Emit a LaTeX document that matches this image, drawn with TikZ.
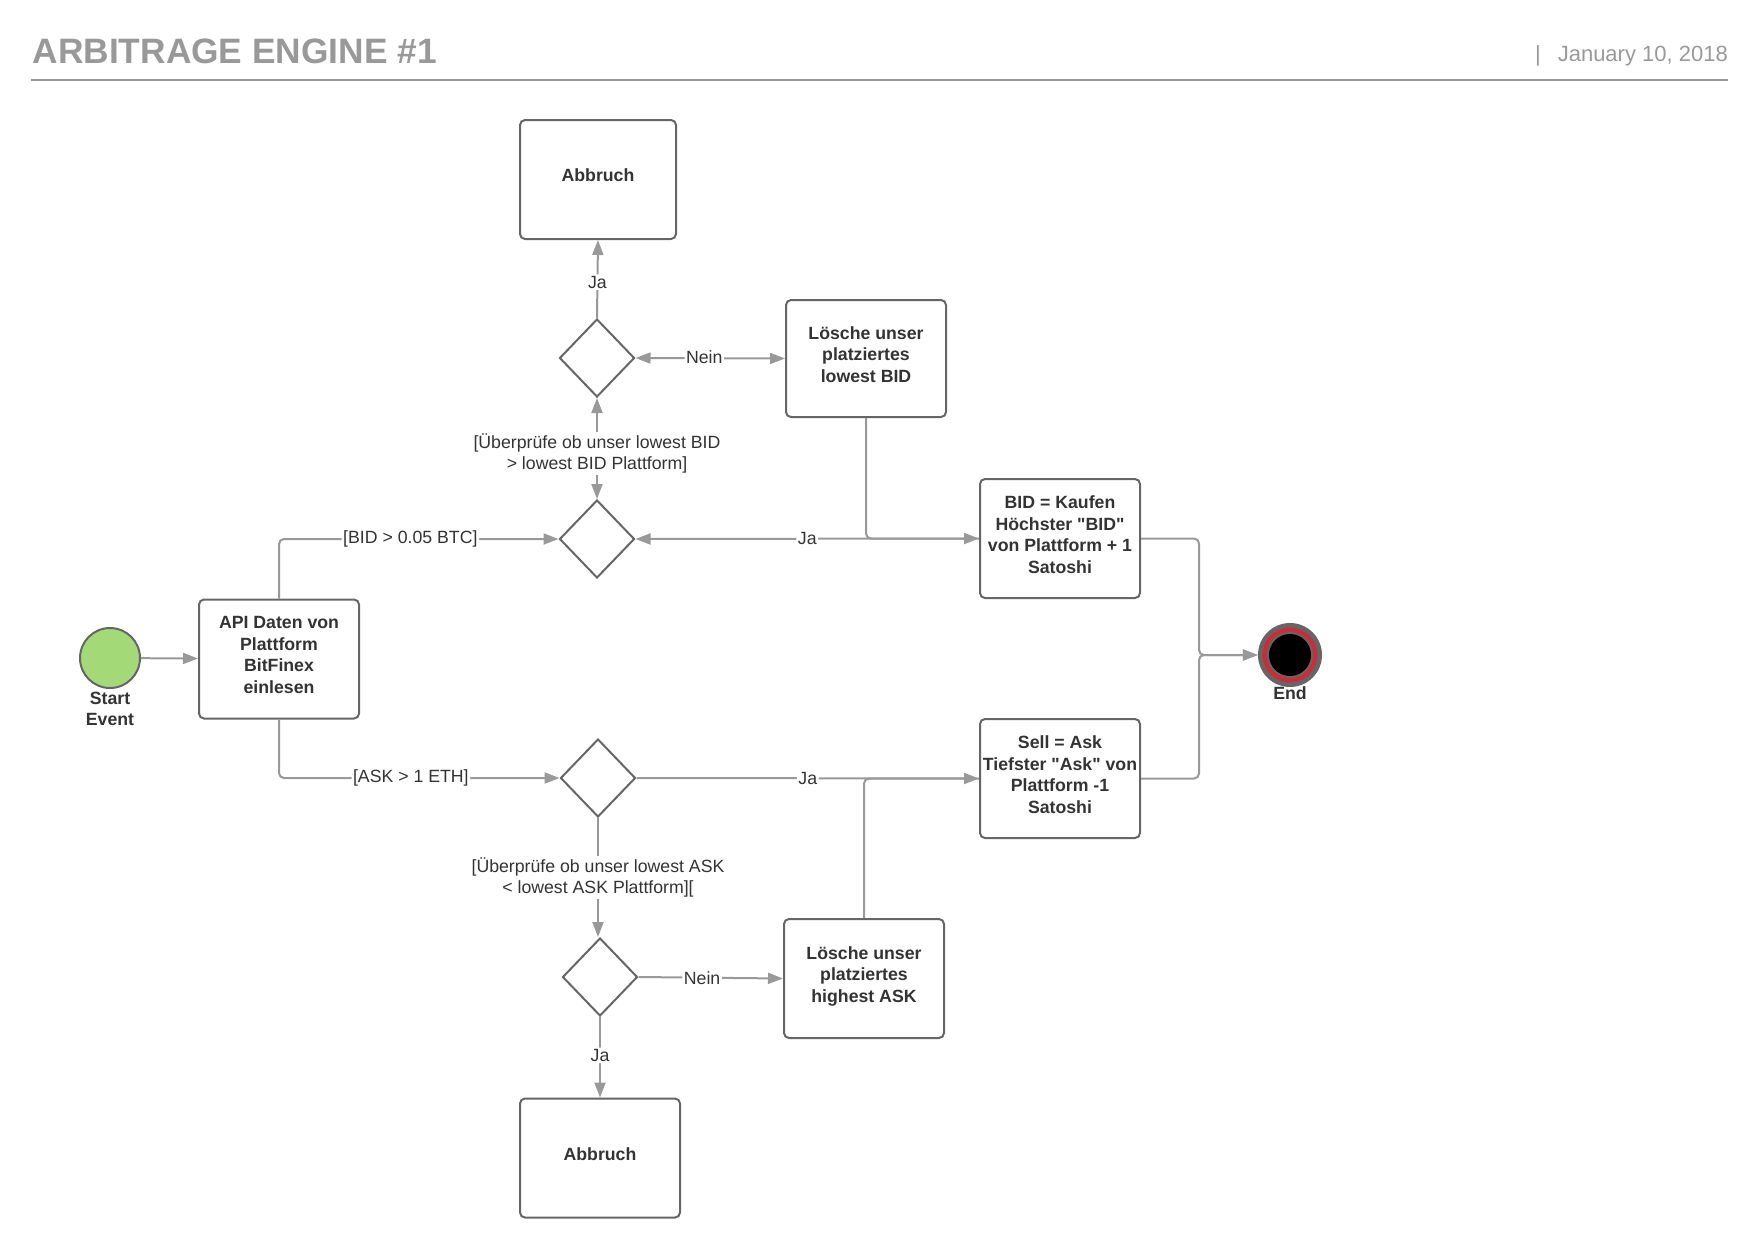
\documentclass[tikz,border=0pt]{standalone}
\usepackage{fontspec}
\setmainfont{Liberation Sans}[Ligatures=TeXOff]
\usetikzlibrary{arrows.meta,shapes.geometric}
\definecolor{cconn}{HTML}{999999}
\definecolor{cbord}{HTML}{666666}
\definecolor{ctext}{HTML}{333333}
\definecolor{chead}{HTML}{999999}
\definecolor{cgreen}{HTML}{A3D977}
\definecolor{cred}{HTML}{C92D39}
\newcommand\nodefnt{\fontsize{17.7pt}{21.7pt}\selectfont\bfseries}
\newcommand\lblfnt{\fontsize{17.7pt}{21.3pt}\selectfont}
\begin{document}
\begin{tikzpicture}[x=1pt,y=-1pt,
  box/.style={draw=cbord, line width=2pt, rounded corners=5pt, fill=white,
    minimum width=160pt, minimum height=119pt, align=center, font=\nodefnt,
    text=ctext, inner sep=2pt, execute at end node={\rule[-8pt]{0pt}{0pt}}},
  dia/.style={diamond, draw=cbord, line width=2pt, minimum width=75pt,
    minimum height=78pt, inner sep=0pt, fill=white},
  cn/.style={draw=cconn, line width=2pt, rounded corners=5pt},
  ar/.style={-{Triangle[length=15pt,width=11pt]}},
  dar/.style={{Triangle[length=15pt,width=11pt]}-{Triangle[length=15pt,width=11pt]}},
  lbl/.style={fill=white, inner sep=1.5pt, font=\lblfnt, text=ctext, align=center},
  ttl/.style={font=\nodefnt, text=ctext, align=center, inner sep=0pt}]
\useasboundingbox (0,0) rectangle (1760,1258);

% header
\node[anchor=base west, font=\fontsize{35.3pt}{40pt}\selectfont\bfseries, text=chead, inner sep=0pt] (title) at (32.5,63.3) {ARBITRAGE ENGINE \#1};
\node[anchor=base east, font=\fontsize{22pt}{26pt}\selectfont, text=chead, inner sep=0pt] (date) at (1728,61) {|\hspace{17pt}January 10, 2018};
\draw[draw=chead, line width=2pt] (31,80) -- (1728,80);

% nodes
\node[circle, draw=cbord, line width=2pt, fill=cgreen, minimum size=60pt, inner sep=0pt] (start) at (110,658) {};
\node[ttl] (startlbl) at (110,709) {Start\\Event};
\node[box] (api) at (279,659) {API Daten von\\Plattform\\BitFinex\\einlesen};

\node[dia] (d1) at (597,539) {};
\node[dia] (d0) at (597,358) {};
\node[box, minimum width=156pt] (abb1) at (598,179.5) {Abbruch};
\node[box, minimum height=117pt] (del1) at (866,358.5) {L\"osche unser\\platziertes\\lowest BID};
\node[box] (bid) at (1060,538.5) {BID = Kaufen\\H\"ochster "BID"\\von Plattform + 1\\Satoshi};
\node[box] (sell) at (1060,778.5) {Sell = Ask\\Tiefster "Ask" von\\Plattform -1\\Satoshi};

\node[circle, fill=cbord, minimum size=64pt, inner sep=0pt] (end) at (1290,655) {};
\fill[cred] (end.center) circle (27.5);
\fill[cbord] (end.center) circle (23);
\fill[black] (end.center) circle (21);
\node[ttl] (endlbl) at (1290,693) {End};

\node[dia] (d2) at (598,778) {};
\node[dia] (d3) at (600,977) {};
\node[box] (del2) at (864,978.5) {L\"osche unser\\platziertes\\highest ASK};
\node[box] (abb2) at (600,1158) {Abbruch};

\coordinate (mx) at (1199,655);

% connectors
\draw[cn, ar] (start) -- (api);
\draw[cn, ar] (api.north) |- node[lbl, pos=0.735] {[BID > 0.05 BTC]} (d1.west);
\draw[cn, dar] (d1.north) -- node[lbl, pos=0.45] {[\"Uberpr\"ufe ob unser lowest BID\\> lowest BID Plattform]} (d0.south);
\draw[cn, dar] (d0.east) -- node[lbl, pos=0.46, yshift=1.5pt] {Nein} (del1.west);
\draw[cn, ar] (d0.north) -- node[lbl, pos=0.46] {Ja} (abb1.south);
\draw[cn] (del1.south) |- (bid.west);
\draw[cn, dar] (d1.east) -- node[lbl, pos=0.5] {Ja} (bid.west);
\draw[cn, ar] (bid.east) -| (mx) -- (end.west);
\draw[cn, ar] (sell.east) -| (mx) -- (end.west);

\draw[cn, ar] (api.south) |- node[lbl, pos=0.735] {[ASK > 1 ETH]} (d2.west);
\draw[cn] (del2.north) |- (sell.west);
\draw[cn, ar] (d2.east) -- node[lbl, pos=0.5] {Ja} (sell.west);
\draw[cn, ar] (d2.south) -- node[lbl, pos=0.5] {[\"Uberpr\"ufe ob unser lowest ASK\\< lowest ASK Plattform][} (d2.south |- d3.north);
\draw[cn, ar] (d3.east) -- node[lbl, pos=0.44] {Nein} (del2.west);
\draw[cn, ar] (d3.south) -- node[lbl, pos=0.476] {Ja} (abb2.north);
\end{tikzpicture}
\end{document}
